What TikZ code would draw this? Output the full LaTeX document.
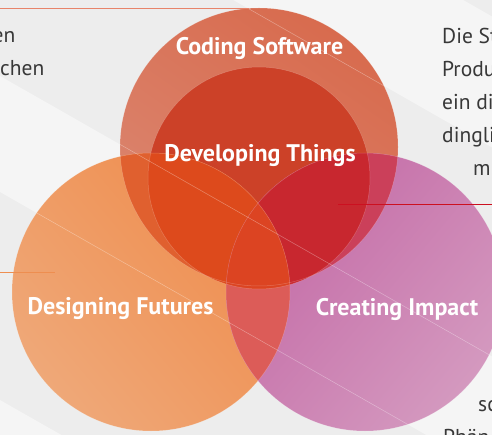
\documentclass[tikz,border=0pt]{standalone}
\usepackage{fontspec}
\setmainfont{PT Sans}
\begin{document}
\begin{tikzpicture}[x=1pt,y=-1pt,
  lbl/.style={text=white,font=\bfseries\fontsize{24}{28}\selectfont,inner sep=0pt},
  body/.style={text=black!78,font=\fontsize{21.5}{26}\selectfont,inner sep=0pt,anchor=base west},
  bandline/.style={white,opacity=0.35,line width=0.5pt},
  rim/.style={white,opacity=0.22,line width=0.5pt},
  leader/.style={line width=1.8pt}]
\definecolor{bgdark}{HTML}{EDEDED}
\definecolor{bglight}{HTML}{F5F5F5}
\definecolor{softA}{HTML}{D86B4E}
\definecolor{softB}{HTML}{DB8670}
\definecolor{innerc}{HTML}{CC4128}
\definecolor{orgA}{HTML}{EF8C4C}
\definecolor{orgB}{HTML}{EFA878}
\definecolor{pnkA}{HTML}{C368A5}
\definecolor{pnkB}{HTML}{D499BF}
\definecolor{ovTL}{HTML}{E0602F}
\definecolor{ovTR}{HTML}{CB405A}
\definecolor{ovIL}{HTML}{DD4A1C}
\definecolor{ovIR}{HTML}{C8272F}
\definecolor{ovLR}{HTML}{DC5C58}
\definecolor{ovILR}{HTML}{DC4422}
\definecolor{lnTop}{HTML}{E8846A}
\definecolor{lnLeft}{HTML}{EE8E50}
\definecolor{lnRight}{HTML}{CC1020}

\useasboundingbox (0,0) rectangle (492,435);
\clip (0,0) rectangle (492,435);

% background with diagonal bands
\fill[bgdark] (0,0) rectangle (492,435);
\fill[bglight] (-10,-269.7) -- (510,26.7) -- (510,157.7) -- (-10,-138.7) -- cycle;
\fill[bglight] (-10,70.3) -- (510,366.7) -- (510,482.7) -- (-10,186.3) -- cycle;
\fill[bglight] (-10,394.3) -- (510,690.7) -- (510,1200) -- (-10,1000) -- cycle;

% circle centres
\coordinate (cT) at (259,147);
\coordinate (cI) at (259,178);
\coordinate (cL) at (151,292);
\coordinate (cR) at (365,292);
\def\rbig{139pt}
\def\rsmall{111pt}

% base discs
\shade[top color=softA,bottom color=softB,shading angle=-35] (cT) circle[radius=\rbig];
\fill[innerc] (cI) circle[radius=\rsmall];
\shade[top color=orgA,bottom color=orgB,shading angle=-50] (cL) circle[radius=\rbig];
\shade[top color=pnkA,bottom color=pnkB,shading angle=50] (cR) circle[radius=\rbig];

% overlaps with the left disc
\begin{scope}
  \clip (cL) circle[radius=\rbig];
  \fill[ovTL] (cT) circle[radius=\rbig];
  \fill[ovIL] (cI) circle[radius=\rsmall];
\end{scope}
% overlaps with the right disc
\begin{scope}
  \clip (cR) circle[radius=\rbig];
  \fill[ovTR] (cT) circle[radius=\rbig];
  \fill[ovIR] (cI) circle[radius=\rsmall];
\end{scope}
% left and right together
\begin{scope}
  \clip (cL) circle[radius=\rbig];
  \clip (cR) circle[radius=\rbig];
  \fill[ovLR] (cR) circle[radius=\rbig];
  \fill[ovILR] (cI) circle[radius=\rsmall];
\end{scope}

% faint rims
\draw[rim] (cT) circle[radius=\rbig];
\draw[rim] (cI) circle[radius=\rsmall];
\draw[rim] (cL) circle[radius=\rbig];
\draw[rim] (cR) circle[radius=\rbig];

% band edges showing through the discs
\begin{scope}
  \clip (cT) circle[radius=\rbig] (cL) circle[radius=\rbig] (cR) circle[radius=\rbig];
  \draw[bandline] (-10,-138.7) -- (510,157.7);
  \draw[bandline] (-10,70.3) -- (510,366.7);
  \draw[bandline] (-10,186.3) -- (510,482.7);
\end{scope}

% labels
\node[lbl] (coding) at (259.5,48) {Coding Software};
\node[lbl] (developing) at (260,156) {Developing Things};
\node[lbl] (designing) at (120.5,309) {Designing Futures};
\node[lbl] (creating) at (397,309) {Creating Impact};

% leader lines
\coordinate (topEnd) at (0,8.5);
\coordinate (topTip) at (249,8.5);
\draw[leader,lnTop] (topEnd) -- (topTip);
\coordinate (leftEnd) at (0,272.5);
\coordinate (leftTip) at (55,272.5);
\draw[leader,lnLeft] (leftEnd) -- (leftTip);
\coordinate (rightTip) at (338,204.5);
\coordinate (rightEnd) at (492,204.5);
\draw[leader,lnRight] (rightTip) -- (rightEnd);

% side texts
\node[body,anchor=base east] (tl1) at (15.5,43) {en};
\node[body,anchor=base east] (tl2) at (44.5,76) {chen};
\node[body] (tr1) at (442,43.5) {Die St};
\node[body] (tr2) at (442,76.5) {Produ};
\node[body] (tr3) at (442,109.5) {ein di};
\node[body] (tr4) at (442,142.5) {dingli};
\node[body] (tr5) at (473,175.5) {m};
\node[body] (br1) at (478,411) {sc};
\node[body] (br2) at (443,444.5) {Phän};
\end{tikzpicture}
\end{document}
